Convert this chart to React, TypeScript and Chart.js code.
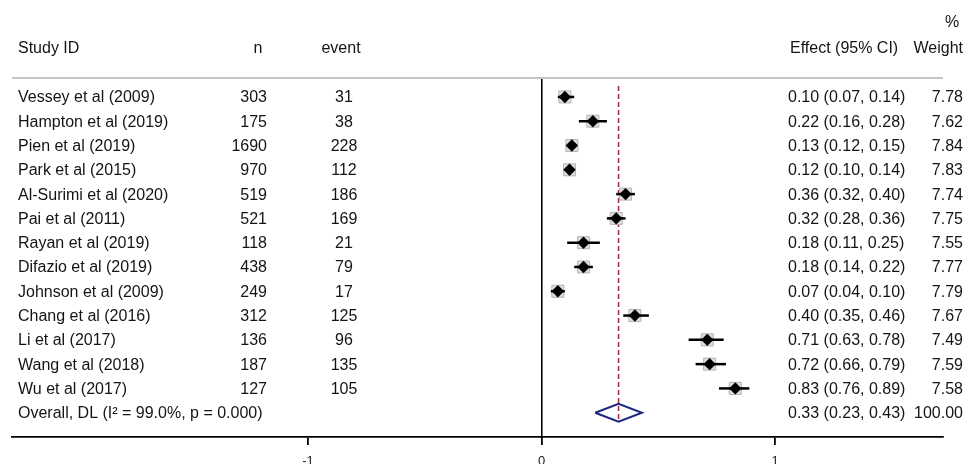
import React, { useEffect, useRef } from "react";
import { Chart, registerables } from "chart.js";

Chart.register(...registerables);

// ---- study data ----
const studies = [
  "Vessey et al (2009)",
  "Hampton et al (2019)",
  "Pien et al (2019)",
  "Park et al (2015)",
  "Al-Surimi et al (2020)",
  "Pai et al (2011)",
  "Rayan et al (2019)",
  "Difazio et al (2019)",
  "Johnson et al (2009)",
  "Chang et al (2016)",
  "Li et al (2017)",
  "Wang et al (2018)",
  "Wu et al (2017)",
];
const sampleSizes = [303, 175, 1690, 970, 519, 521, 118, 438, 249, 312, 136, 187, 127];
const eventCounts = [31, 38, 228, 112, 186, 169, 21, 79, 17, 125, 96, 135, 105];
const effects = [0.10, 0.22, 0.13, 0.12, 0.36, 0.32, 0.18, 0.18, 0.07, 0.40, 0.71, 0.72, 0.83];
const lowerCI = [0.07, 0.16, 0.12, 0.10, 0.32, 0.28, 0.11, 0.14, 0.04, 0.35, 0.63, 0.66, 0.76];
const upperCI = [0.14, 0.28, 0.15, 0.14, 0.40, 0.36, 0.25, 0.22, 0.10, 0.46, 0.78, 0.79, 0.89];
const weights = [7.78, 7.62, 7.84, 7.83, 7.74, 7.75, 7.55, 7.77, 7.79, 7.67, 7.49, 7.59, 7.58];

const overallLabel = "Overall, DL (I\u00B2 = 99.0%, p = 0.000)";
const overallEffect = 0.33;
const overallLower = 0.23;
const overallUpper = 0.43;
const overallWeight = 100.0;

const xTicks = [-1, 0, 1];

// ---- styling ----
const FONT = '"Liberation Sans", Arial, Helvetica, sans-serif';
const TEXT = "#141414";
const OVERALL_ROW = studies.length;
const DIAMOND_HALF = 0.37; // half-height of the pooled diamond, in rows
const TEXT_NUDGE = 1; // optical centring of row text on the marker line

const fmt = (v: number) => v.toFixed(2);

const tablePlugin = {
  id: "forestTable",
  afterDraw(chart: any) {
    const { ctx, chartArea, scales } = chart;
    const ys = scales.y;
    ctx.save();

    // rule under the column headers
    ctx.strokeStyle = "#c6c6c6";
    ctx.lineWidth = 2;
    ctx.beginPath();
    ctx.moveTo(chartArea.left, chartArea.top);
    ctx.lineTo(chartArea.right, chartArea.top);
    ctx.stroke();

    ctx.fillStyle = TEXT;
    ctx.font = `16px ${FONT}`;
    ctx.textBaseline = "middle";

    // headers
    const hy = 49;
    ctx.textAlign = "left";
    ctx.fillText("Study ID", 18, hy);
    ctx.fillText("Effect (95% CI)", 790, hy);
    ctx.textAlign = "center";
    ctx.fillText("n", 258, hy);
    ctx.fillText("event", 341, hy);
    ctx.fillText("%", 952, 23);
    ctx.textAlign = "right";
    ctx.fillText("Weight", 963, hy);

    // study rows
    studies.forEach((name, i) => {
      const py = ys.getPixelForValue(i) + TEXT_NUDGE;
      ctx.textAlign = "left";
      ctx.fillText(name, 18, py);
      ctx.fillText(`${fmt(effects[i])} (${fmt(lowerCI[i])}, ${fmt(upperCI[i])})`, 788, py);
      ctx.textAlign = "right";
      ctx.fillText(String(sampleSizes[i]), 267, py);
      ctx.fillText(fmt(weights[i]), 963, py);
      ctx.textAlign = "center";
      ctx.fillText(String(eventCounts[i]), 344, py);
    });

    // pooled row
    const oy = ys.getPixelForValue(OVERALL_ROW) + TEXT_NUDGE;
    ctx.textAlign = "left";
    ctx.fillText(overallLabel, 18, oy);
    ctx.fillText(`${fmt(overallEffect)} (${fmt(overallLower)}, ${fmt(overallUpper)})`, 788, oy);
    ctx.textAlign = "right";
    ctx.fillText(fmt(overallWeight), 963, oy);

    ctx.restore();
  },
};

export default function App() {
  const canvasRef = useRef<HTMLCanvasElement | null>(null);

  useEffect(() => {
    const canvas = canvasRef.current;
    if (!canvas) return;

    const ciSets = studies.map((_, i) => ({
      type: "line" as const,
      data: [
        { x: lowerCI[i], y: i },
        { x: upperCI[i], y: i },
      ],
      borderColor: "#000",
      borderWidth: 2.5,
      pointRadius: 0,
      showLine: true,
      fill: false,
      order: 3,
    }));

    const chart = new Chart(canvas, {
      type: "scatter",
      data: {
        datasets: [
          {
            // pooled estimate reference line
            type: "line",
            data: [
              { x: overallEffect, y: -0.45 },
              { x: overallEffect, y: OVERALL_ROW + DIAMOND_HALF },
            ],
            borderColor: "#a8323f",
            borderWidth: 1.6,
            borderDash: [5, 3],
            pointRadius: 0,
            showLine: true,
            fill: false,
            order: 6,
          },
          {
            // study weight boxes
            data: effects.map((e, i) => ({ x: e, y: i })),
            pointStyle: "rect",
            pointRadius: 8.5,
            backgroundColor: "#dedede",
            borderColor: "#b4b4b4",
            borderWidth: 1,
            order: 5,
          },
          ...ciSets,
          {
            // point estimates
            data: effects.map((e, i) => ({ x: e, y: i })),
            pointStyle: "rectRot",
            pointRadius: 6.2,
            backgroundColor: "#000",
            borderWidth: 0,
            order: 2,
          },
          {
            // pooled diamond
            type: "line",
            data: [
              { x: overallLower, y: OVERALL_ROW },
              { x: overallEffect, y: OVERALL_ROW - DIAMOND_HALF },
              { x: overallUpper, y: OVERALL_ROW },
              { x: overallEffect, y: OVERALL_ROW + DIAMOND_HALF },
              { x: overallLower, y: OVERALL_ROW },
            ],
            borderColor: "#1c2680",
            borderWidth: 2,
            pointRadius: 0,
            showLine: true,
            fill: false,
            order: 1,
          },
        ] as any,
      },
      options: {
        animation: false,
        responsive: false,
        maintainAspectRatio: false,
        devicePixelRatio: 1,
        elements: { line: { tension: 0 } },
        layout: { padding: { left: 12, right: 28, top: 78, bottom: 0 } },
        plugins: {
          legend: { display: false },
          tooltip: { enabled: false },
        },
        scales: {
          x: {
            type: "linear",
            min: -2.2677,
            max: 1.7195,
            afterBuildTicks: (axis: any) => {
              axis.ticks = xTicks.map((v) => ({ value: v }));
            },
            afterFit: (axis: any) => {
              axis.height = 27;
            },
            grid: {
              display: true,
              drawOnChartArea: false,
              drawTicks: true,
              tickLength: 8,
              color: "#000",
              lineWidth: 1.8,
            },
            border: { display: true, color: "#000", width: 1.8 },
            ticks: {
              color: "#222",
              padding: 9,
              font: { family: FONT, size: 13 },
              callback: (v: any) => String(v),
              autoSkip: false,
              maxRotation: 0,
            },
          },
          y: {
            type: "linear",
            reverse: true,
            min: -0.78,
            max: 14,
            position: { x: 0 } as any,
            grid: { display: false, drawTicks: false },
            ticks: { display: false },
            border: { display: true, color: "#000", width: 1.6 },
          },
        },
      } as any,
      plugins: [tablePlugin],
    });

    return () => chart.destroy();
  }, []);

  return (
    <div
      style={{
        position: "fixed",
        left: 0,
        top: 0,
        width: 971,
        height: 464,
        overflow: "hidden",
        background: "#fff",
      }}
    >
      <canvas ref={canvasRef} width={971} height={464} style={{ display: "block", width: 971, height: 464 }} />
    </div>
  );
}
